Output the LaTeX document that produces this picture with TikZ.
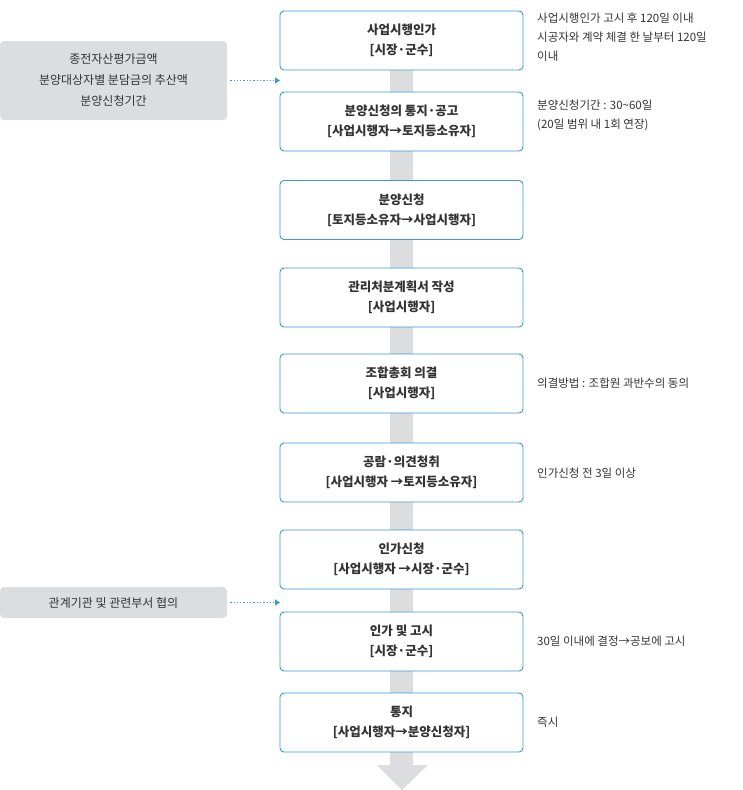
\documentclass[tikz,border=0pt]{standalone}
\usepackage{fontspec}
\setmainfont{Noto Sans CJK KR}
\usetikzlibrary{arrows.meta}
\definecolor{bl}{HTML}{3A9AD9}
\definecolor{gr}{HTML}{DCDDDE}
\definecolor{tx}{HTML}{333333}
\tikzset{
 stepbox/.style={draw=bl,line width=0.9pt,rounded corners=4pt,fill=white,minimum width=243pt,minimum height=59pt,align=center,font=\fontsize{12.5}{20}\selectfont\bfseries,text=tx,inner sep=0pt},
 side/.style={anchor=north west,align=left,font=\fontsize{11.5}{19}\selectfont,text=tx,inner sep=0pt},
 leftbox/.style={fill=gr,rounded corners=4pt,minimum width=227pt,align=center,font=\fontsize{12}{21}\selectfont,text=tx,inner sep=0pt},
 dot/.style={bl,dotted,line width=1.3pt,-{Triangle[length=5pt,width=6pt,fill=bl]}}
}
\begin{document}
\begin{tikzpicture}[x=1pt,y=-1pt]
\useasboundingbox (0,0) rectangle (743,790);
\fill[gr] (390,40) rectangle (413,765);
\fill[gr] (377,765) -- (428,765) -- (402,790) -- cycle;
\node[stepbox] (b1) at (401.5,40.5) {사업시행인가\\{[}시장·군수{]}};
\node[stepbox] (b2) at (401.5,121.5) {분양신청의 통지·공고\\{[}사업시행자→토지등소유자{]}};
\node[stepbox] (b3) at (401.5,210) {분양신청\\{[}토지등소유자→사업시행자{]}};
\node[stepbox] (b4) at (401.5,297.5) {관리처분계획서 작성\\{[}사업시행자{]}};
\node[stepbox] (b5) at (401.5,383.5) {조합총회 의결\\{[}사업시행자{]}};
\node[stepbox] (b6) at (401.5,472.5) {공람·의견청취\\{[}사업시행자 →토지등소유자{]}};
\node[stepbox] (b7) at (401.5,559.5) {인가신청\\{[}사업시행자 →시장·군수{]}};
\node[stepbox] (b8) at (401.5,641.5) {인가 및 고시\\{[}시장·군수{]}};
\node[stepbox] (b9) at (401.5,722.5) {통지\\{[}사업시행자→분양신청자{]}};
\node[leftbox,minimum height=79pt] (l1) at (113.5,80.5) {종전자산평가금액\\분양대상자별 분담금의 추산액\\분양신청기간};
\node[leftbox,minimum height=31pt] (l2) at (113.5,602.5) {관계기관 및 관련부서 협의};
\coordinate (a1) at (280,80.5);
\coordinate (a2) at (280,602.5);
\draw[dot] (l1.east) ++(3,0) -- (a1);
\draw[dot] (l2.east) ++(3,0) -- (a2);
\node[side] (s1) at (537,13) {사업시행인가 고시 후 120일 이내\\시공자와 계약 체결 한 날부터 120일\\이내};
\node[side] (s2) at (537,100) {분양신청기간 : 30\textasciitilde60일\\(20일 범위 내 1회 연장)};
\node[side,anchor=west] (s5) at (537,383) {의결방법 : 조합원 과반수의 동의};
\node[side,anchor=west] (s6) at (537,473) {인가신청 전 3일 이상};
\node[side,anchor=west] (s8) at (537,641) {30일 이내에 결정→공보에 고시};
\node[side,anchor=west] (s9) at (537,722) {즉시};
\end{tikzpicture}
\end{document}
